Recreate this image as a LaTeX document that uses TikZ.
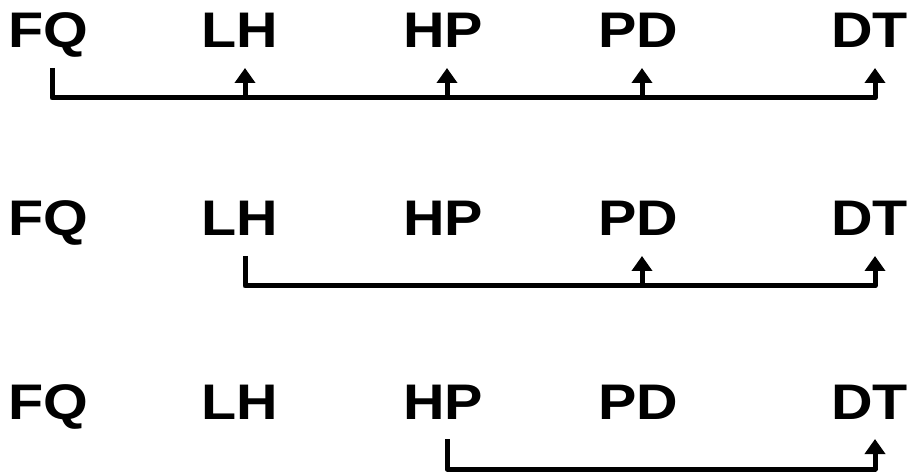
\documentclass[tikz,border=0pt]{standalone}
\usepackage{fontspec}
\setmainfont{Liberation Sans}[FakeStretch=1.15]
\usetikzlibrary{arrows.meta}

\begin{document}
\begin{tikzpicture}[x=1pt,y=-1pt,
  lbl/.style={font=\fontsize{50}{54}\selectfont\bfseries,inner sep=0pt,anchor=base west},
  wire/.style={line width=5pt,line join=round},
  riser/.style={wire,-{Triangle[width=20pt,length=15pt]}}]
 \useasboundingbox (0,0) rectangle (911,473);

 % first row: FQ feeds every later stage
 \node[lbl] (fq1) at (8,48)   {FQ};
 \node[lbl] (lh1) at (201,48) {LH};
 \node[lbl] (hp1) at (403,48) {HP};
 \node[lbl] (pd1) at (598,48) {PD};
 \node[lbl] (dt1) at (831,48) {DT};

 % second row
 \node[lbl] (fq2) at (8,236)   {FQ};
 \node[lbl] (lh2) at (201,236) {LH};
 \node[lbl] (hp2) at (403,236) {HP};
 \node[lbl] (pd2) at (598,236) {PD};
 \node[lbl] (dt2) at (831,236) {DT};

 % third row
 \node[lbl] (fq3) at (8,419)   {FQ};
 \node[lbl] (lh3) at (201,419) {LH};
 \node[lbl] (hp3) at (403,419) {HP};
 \node[lbl] (pd3) at (598,419) {PD};
 \node[lbl] (dt3) at (831,419) {DT};

 % attach points under the labels
 \coordinate (fq1t) at ([xshift=44pt,yshift=-20pt]fq1.base west);
 \coordinate (lh1t) at ([xshift=44pt,yshift=-20pt]lh1.base west);
 \coordinate (hp1t) at ([xshift=44pt,yshift=-20pt]hp1.base west);
 \coordinate (pd1t) at ([xshift=44pt,yshift=-20pt]pd1.base west);
 \coordinate (dt1t) at ([xshift=44pt,yshift=-20pt]dt1.base west);
 \coordinate (lh2t) at ([xshift=44pt,yshift=-20pt]lh2.base west);
 \coordinate (pd2t) at ([xshift=44pt,yshift=-20pt]pd2.base west);
 \coordinate (dt2t) at ([xshift=44pt,yshift=-20pt]dt2.base west);
 \coordinate (hp3t) at ([xshift=44pt,yshift=-20pt]hp3.base west);
 \coordinate (dt3t) at ([xshift=44pt,yshift=-20pt]dt3.base west);

 \coordinate (bar1) at ([yshift=-30pt]fq1t);
 \coordinate (bar2) at ([yshift=-30pt]lh2t);

 \draw[riser] (fq1t) -- (bar1) -| (dt1t);
 \draw[riser] (lh1t |- bar1) -- (lh1t);
 \draw[riser] (hp1t |- bar1) -- (hp1t);
 \draw[riser] (pd1t |- bar1) -- (pd1t);

 \draw[riser] (lh2t) -- (bar2) -| (dt2t);
 \draw[riser] (pd2t |- bar2) -- (pd2t);

 \draw[riser] (hp3t) -- ++(0,30) -| (dt3t);
\end{tikzpicture}
\end{document}
